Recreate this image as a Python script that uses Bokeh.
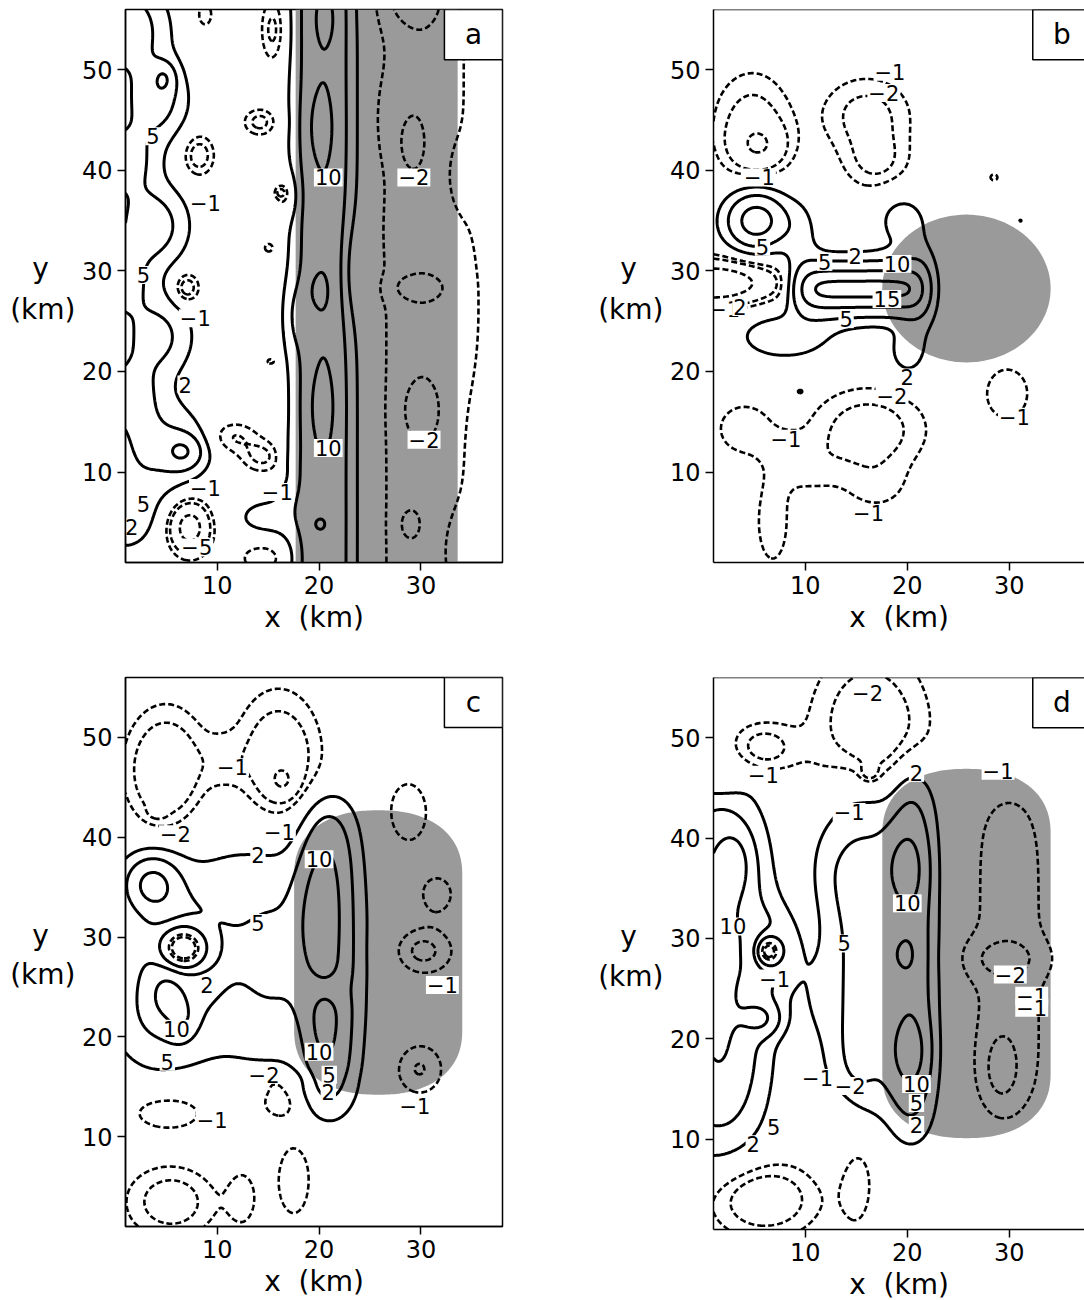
import numpy as np
from bokeh.plotting import figure
from bokeh.layouts import column, row
from bokeh.models import Span, LinearAxis, FixedTicker
from bokeh.embed import file_html
from bokeh.resources import INLINE
from bokeh.core.properties import value

FONT = "DejaVu Sans"
X0, X1 = 1.0, 38.0
Y0, Y1 = 1.0, 56.0
X_TICKS = [10, 20, 30]
Y_TICKS = [10, 20, 30, 40, 50]
NEG_LEVELS = [-5, -2, -1]
POS_LEVELS = [2, 5, 10, 15]
SHADE = "#9a9a9a"

# ---- field features: centre (x, y), widths (sx, sy), amplitude, shape exponents (px, py) ----
# panel a
a_bg = 0.3
a_x = [21.0, 19.3, 20.0, 19.8, 20.2, 20.0, 20.6, 16.8, 17.0, 23.0, 17.6,
       30.3, 29.0, 29.6, 30.0, 28.8, 28.5, 26.3, 27.6, 35.0, 34.0, 34.0,
       1.0, 3.8, 1.0, 3.5, 0.5, 4.0, 1.5, 4.8, 6.7, 4.0, 1.0, 15.0,
       8.2, 7.0, 7.3, 14.2, 15.5, 16.2, 15.1, 15.3, 11.5, 14.5, 16.8, 8.8, 14.5]
a_y = [28.0, 28.0, 44.3, 28.0, 16.5, 4.8, 55.0, 37.5, 9.5, 30.0, 25.5,
       28.0, 42.8, 28.3, 16.2, 4.8, 57.0, 45.0, 34.0, 26.0, 39.5, 2.0,
       54.0, 47.0, 41.0, 34.5, 29.0, 23.5, 18.0, 49.2, 12.0, 12.5, 6.0, 5.5,
       41.5, 28.3, 4.5, 44.8, 54.0, 37.8, 32.3, 21.0, 13.5, 11.5, 9.5, 55.5, 1.5]
a_sx = [1.8, 1.6, 1.0, 0.8, 1.0, 0.35, 0.8, 0.9, 0.8, 1.0, 0.8,
        4.2, 0.9, 2.2, 1.4, 0.8, 2.8, 0.8, 0.8, 1.0, 1.2, 1.5,
        2.5, 2.0, 2.0, 2.2, 2.0, 2.2, 2.0, 0.8, 1.3, 3.0, 2.0, 2.5,
        1.1, 0.9, 1.4, 1.2, 0.9, 0.35, 0.55, 0.5, 1.8, 1.6, 0.8, 0.6, 1.8]
a_sy = [500, 500, 2.6, 1.3, 2.8, 0.35, 1.8, 1.6, 2.0, 4.0, 2.5,
        500, 2.0, 1.0, 2.2, 1.2, 2.2, 3.0, 2.5, 6.0, 2.5, 3.0,
        3.0, 2.5, 2.5, 2.5, 2.5, 2.5, 2.5, 1.1, 1.2, 3.0, 2.5, 1.5,
        1.5, 1.1, 1.8, 1.0, 2.5, 0.35, 0.55, 0.35, 1.2, 1.2, 1.2, 1.0, 1.2]
a_amp = [7.2, 3.0, 3.0, 2.4, 3.0, 1.6, 2.4, -2.5, 2.5, -2.2, 2.5,
         -2.0, -0.9, -0.9, -0.9, -0.8, -0.9, -0.5, -0.4, -0.5, 0.6, 0.8,
         8.0, 7.0, 7.0, 7.5, 7.0, 6.0, 6.0, 5.5, 7.0, 5.5, 4.0, 2.5,
         -3.2, -3.5, -7.0, -2.8, -2.8, -1.8, -1.8, -1.8, -2.4, -2.6, -2.0, -2.2, -2.2]
a_px = [2] * 47
a_py = [2] * 47

# panel b
b_bg = 0.0
b_x = [4.8, 5.5, 16.0, 17.0, 28.5, 29.8, 4.0, 7.5, 6.8, 16.2, 10.0, 17.0, 1.0,
       5.2, 15.2, 21.5, 8.0, 9.5, 19.5, 20.0, 9.5, 31.1]
b_y = [44.5, 42.4, 45.5, 40.8, 39.3, 17.8, 14.3, 12.5, 5.0, 14.2, 10.5, 8.5, 28.8,
       35.0, 28.2, 28.3, 23.5, 33.5, 35.0, 22.0, 18.0, 35.0]
b_sx = [2.6, 1.8, 3.0, 2.2, 0.35, 1.8, 2.0, 1.5, 1.3, 3.8, 2.5, 2.5, 4.0,
        2.0, 5.6, 1.2, 3.5, 1.3, 1.8, 1.3, 0.4, 0.15]
b_sy = [3.6, 1.6, 2.6, 2.0, 0.3, 2.2, 1.9, 1.2, 3.5, 2.8, 2.0, 2.0, 1.5,
        1.9, 1.8, 3.0, 1.8, 2.5, 2.0, 1.8, 0.25, 0.15]
b_amp = [-2.8, -3.2, -2.6, -2.2, -1.6, -1.8, -1.9, -0.8, -1.7, -3.0, -1.3, -1.2, -8.0,
         13.0, 16.5, 4.0, 3.5, 2.5, 3.0, 3.2, 2.6, -1.3]
b_px = [2, 2, 2, 2, 2, 2, 2, 2, 2, 2, 2, 2, 2,
        2, 6, 2, 2, 2, 2, 2, 2, 2]
b_py = [2] * 22

# panel c
c_bg = 0.0
c_x = [13.0, 21.0, 20.0, 20.3, 19.0, 15.5, 20.6, 3.6, 6.7, 6.5, 5.0, 6.5, 4.0,
       5.0, 4.1, 16.0, 16.4, 10.5, 5.5, 16.0, 14.0, 5.5, 17.5, 12.5,
       28.7, 31.5, 30.1, 29.8]
c_y = [28.5, 28.0, 33.5, 21.3, 31.5, 28.0, 24.8, 35.3, 28.8, 28.5, 24.0, 21.8, 22.0,
       46.5, 42.6, 47.5, 45.6, 47.5, 12.5, 13.6, 15.8, 3.5, 6.0, 4.0,
       42.4, 34.3, 28.6, 16.8]
c_sx = [7.5, 1.8, 1.3, 0.9, 1.4, 2.5, 1.4, 1.8, 1.8, 2.8, 1.0, 1.0, 3.0,
        2.6, 0.6, 2.8, 1.0, 1.5, 3.0, 1.6, 4.0, 3.0, 1.5, 1.2,
        1.6, 1.4, 2.2, 1.8]
c_sy = [9.0, 13.5, 4.0, 2.2, 4.5, 5.5, 1.2, 1.9, 1.8, 3.5, 1.5, 1.5, 3.5,
        4.0, 0.5, 4.5, 1.1, 2.0, 1.5, 1.4, 0.8, 2.5, 3.5, 2.5,
        2.6, 1.6, 1.8, 2.0]
c_amp = [3.6, 8.5, 2.5, 2.5, 2.5, 2.5, -3.0, 10.5, -15.0, 8.0, 5.0, 5.0, 4.0,
         -4.5, -1.5, -4.0, -2.5, -1.2, -2.3, -2.6, -1.5, -3.0, -1.8, -1.5,
         -2.0, -1.8, -2.6, -2.2]
c_px = [2] * 28
c_py = [2, 6] + [2] * 26

# panel d
d_bg = 0.0
d_x = [1.5, 3.0, 6.3, 6.5, 5.8, 14.5, 17.0, 20.4, 19.7, 19.5, 20.2,
       12.0, 14.5, 15.2, 11.0,
       5.8, 1.5, 16.3, 16.3, 30.0, 29.3, 29.2, 6.0, 15.0, 12.5]
d_y = [27.0, 37.5, 28.7, 28.5, 22.0, 28.0, 29.0, 28.5, 37.0, 28.4, 18.7,
       37.0, 35.5, 18.5, 24.0,
       49.0, 45.0, 50.5, 46.5, 28.5, 28.0, 17.0, 4.0, 8.0, 13.5]
d_sx = [3.0, 1.2, 1.0, 2.0, 1.3, 2.0, 1.5, 1.7, 1.3, 1.0, 1.3,
        1.2, 1.0, 1.0, 1.2,
        2.2, 1.5, 3.8, 0.6, 3.5, 3.0, 1.3, 3.5, 1.5, 2.0]
d_sy = [14.0, 2.2, 1.2, 3.0, 1.2, 15.0, 14.0, 16.0, 2.4, 1.4, 2.4,
        3.0, 2.5, 2.5, 3.0,
        1.7, 0.6, 5.5, 0.6, 16.0, 1.5, 2.6, 2.5, 5.0, 1.5]
d_amp = [11.0, 6.0, -11.0, 5.0, 7.0, 5.0, 3.0, 8.0, 5.5, 3.0, 5.5,
         1.5, 1.5, 1.5, 1.2,
         -2.8, -2.0, -3.6, -2.0, -1.4, -1.2, -1.4, -3.5, -2.0, -1.5]
d_px = [2] * 25
d_py = [4, 2, 2, 2, 2, 4, 6, 6, 2, 2, 2,
        2, 2, 2, 2,
        2, 2, 2, 2, 6, 2, 2, 2, 2, 2]

# ---- contour labels: level and position ----
a_lab_lev = [5, -1, 5, -1, 2, 10, 10, -2, -2, -1, 5, 2, -1, -5]
a_lab_x = [3.7, 8.85, 2.75, 7.85, 6.85, 20.9, 20.9, 29.3, 30.3, 8.85, 2.75, 1.6, 15.9, 8.0]
a_lab_y = [43.4, 36.8, 29.6, 25.3, 18.7, 39.3, 12.4, 39.3, 13.2, 8.4, 6.8, 4.5, 8.0, 2.5]

b_lab_lev = [-1, -2, -1, 5, 5, 2, 10, 15, 5, -1, 2, 2, -2, -1, -1, -1]
b_lab_x = [18.3, 17.7, 5.5, 5.8, 11.9, 14.9, 19.0, 18.0, 14.0, 2.1, 3.6, 20.0, 18.5, 8.1, 16.2, 30.5]
b_lab_y = [49.8, 47.7, 39.3, 32.4, 30.9, 31.45, 30.7, 27.2, 25.2, 26.2, 26.4, 19.4, 17.6, 13.3, 5.9, 15.5]

c_lab_lev = [-1, -2, -1, 2, 10, 5, 2, 10, 5, -1, 10, 5, 2, -2, -1, -1]
c_lab_x = [11.5, 5.9, 16.1, 14.0, 20.0, 14.0, 9.0, 6.0, 5.1, 32.1, 20.0, 21.0, 20.9, 14.6, 9.5, 29.4]
c_lab_y = [47.0, 40.3, 40.5, 38.2, 37.8, 31.4, 25.2, 20.8, 17.5, 25.2, 18.5, 16.2, 14.5, 16.2, 11.7, 13.1]

d_lab_lev = [-2, -1, 2, -1, -1, 10, 10, 5, -1, -2, -1, -1, -1, -2, 10, 5, 2, 5, 2]
d_lab_x = [16.1, 5.9, 20.9, 28.9, 14.3, 20.0, 2.9, 13.8, 7.0, 30.1, 32.2, 32.2, 11.2, 14.4, 20.9, 20.9, 20.9, 6.9, 4.9]
d_lab_y = [54.5, 46.3, 46.5, 46.7, 42.6, 33.5, 31.2, 29.5, 26.0, 26.4, 24.3, 23.1, 16.1, 15.3, 15.5, 13.6, 11.4, 11.2, 9.5]

# ---- shaded forcing region: centre, half width, straight half length, cap height ----
SHADE_XC, SHADE_HW = 25.8, 8.25
b_shade = (28.25, 0.0, 7.35, 2.0)
c_shade = (28.45, 7.75, 6.5, 2.3)
d_shade = (28.5, 11.9, 6.5, 2.3)
a_shade_x = (17.7, 33.6)

gx = np.linspace(X0, X1, 297)
gy = np.linspace(Y0, Y1, 441)
GX, GY = np.meshgrid(gx, gy)


def field(bg, xs, ys, sxs, sys_, amps, pxs, pys):
    z = np.full(GX.shape, bg, dtype=float)
    for x0, y0, sx, sy, amp, px, py in zip(xs, ys, sxs, sys_, amps, pxs, pys):
        z += amp * np.exp(-0.5 * np.abs((GX - x0) / sx) ** px - 0.5 * np.abs((GY - y0) / sy) ** py)
    return z


def stadium(yc, half_len, cap, power):
    t = np.linspace(0.0, np.pi, 120)
    c, s = np.cos(t), np.sin(t)
    ex = np.sign(c) * np.abs(c) ** (2.0 / power)
    ey = np.abs(s) ** (2.0 / power)
    top_x = SHADE_XC + SHADE_HW * ex
    top_y = yc + half_len + cap * ey
    bot_x = SHADE_XC - SHADE_HW * ex
    bot_y = yc - half_len - cap * ey
    return list(np.concatenate([top_x, bot_x])), list(np.concatenate([top_y, bot_y]))


def fmt(v):
    return "\u2212%d" % (-v) if v < 0 else "%d" % v


def panel(tag, z, shade, labs, frame_w, x_end, borders, open_right=False):
    left, right, top, bottom, frame_h = borders
    p = figure(frame_width=frame_w, frame_height=frame_h,
               min_border_left=left, min_border_right=right,
               min_border_top=top, min_border_bottom=bottom,
               x_range=(X0, x_end), y_range=(Y0, Y1),
               output_backend="svg", toolbar_location=None)
    p.background_fill_color = "white"
    p.border_fill_color = "white"
    p.grid.visible = False
    if open_right:
        p.outline_line_color = None
        p.add_layout(Span(location=Y1, dimension="width", line_color="black", line_width=1.5))
    else:
        p.outline_line_color = "black"
        p.outline_line_width = 1.5
        p.outline_line_alpha = 1.0

    sx, sy = shade
    p.patch(sx, sy, fill_color=SHADE, line_color=None)

    p.contour(gx, gy, z, levels=NEG_LEVELS, line_color="black", line_width=2.6, line_dash="6 3")
    p.contour(gx, gy, z, levels=POS_LEVELS, line_color="black", line_width=3.0)

    lev, lx, ly = labs
    p.text(x=lx, y=ly, text=[fmt(v) for v in lev],
           text_font=value(FONT), text_font_size="21px", text_color="black",
           text_align="center", text_baseline="middle",
           background_fill_color="white", padding=1)

    # panel tag in the upper right corner
    p.quad(left=[38.0 - 5.7], right=[38.0], bottom=[Y1 - 5.0], top=[Y1],
           fill_color="white", line_color="black", line_width=1.5)
    p.text(x=[38.0 - 2.85], y=[Y1 - 2.5], text=[tag], text_font=value(FONT),
           text_font_size="28px", text_align="center", text_baseline="middle")

    p.xaxis.ticker = X_TICKS
    p.yaxis.ticker = Y_TICKS
    for ax in (p.xaxis[0], p.yaxis[0]):
        ax.major_tick_out = 8
        ax.major_tick_in = 0
        ax.minor_tick_line_color = None
        ax.major_tick_line_width = 1.5
        ax.axis_line_width = 1.5
        ax.major_label_text_font = FONT
        ax.major_label_text_font_size = "24px"
        ax.major_label_text_color = "black"
    p.xaxis.axis_label = "x\u00a0\u00a0(km)"
    p.xaxis.axis_label_text_font = FONT
    p.xaxis.axis_label_text_font_size = "28px"
    p.xaxis.axis_label_text_font_style = "normal"
    p.xaxis.axis_label_text_color = "black"
    p.xaxis.axis_label_standoff = 4

    # horizontal two-line y title, set as labels of an extra left axis
    ytitle = LinearAxis(ticker=FixedTicker(ticks=[26.2, 30.2]),
                        major_label_overrides={26.2: "(km)", 30.2: "y\u00a0\u00a0\u00a0"},
                        axis_line_color=None, major_tick_line_color=None,
                        minor_tick_line_color=None, major_tick_out=0, major_tick_in=0,
                        major_label_standoff=3, major_label_text_font=FONT,
                        major_label_text_font_size="28px", major_label_text_color="black")
    p.add_layout(ytitle, "left")
    return p


za = field(a_bg, a_x, a_y, a_sx, a_sy, a_amp, a_px, a_py)
zb = field(b_bg, b_x, b_y, b_sx, b_sy, b_amp, b_px, b_py)
zc = field(c_bg, c_x, c_y, c_sx, c_sy, c_amp, c_px, c_py)
zd = field(d_bg, d_x, d_y, d_sx, d_sy, d_amp, d_px, d_py)

a_shade = ([a_shade_x[0], a_shade_x[1], a_shade_x[1], a_shade_x[0]], [Y0, Y0, Y1, Y1])

pa = panel("a", za, a_shade, (a_lab_lev, a_lab_x, a_lab_y), 377, X1, (125, 86, 9, 88, 553))
pb = panel("b", zb, stadium(*b_shade), (b_lab_lev, b_lab_x, b_lab_y), 371, X0 + 371 / 10.2,
           (125, 0, 5, 92, 553), open_right=True)
pc = panel("c", zc, stadium(*c_shade), (c_lab_lev, c_lab_x, c_lab_y), 377, X1, (125, 86, 27, 74, 549))
pd = panel("d", zd, stadium(*d_shade), (d_lab_lev, d_lab_x, d_lab_y), 371, X0 + 371 / 10.2,
           (125, 0, 23, 75, 552), open_right=True)

layout = column(row(pa, pb), row(pc, pd))
open("out.html", "w").write(file_html(layout, INLINE))
